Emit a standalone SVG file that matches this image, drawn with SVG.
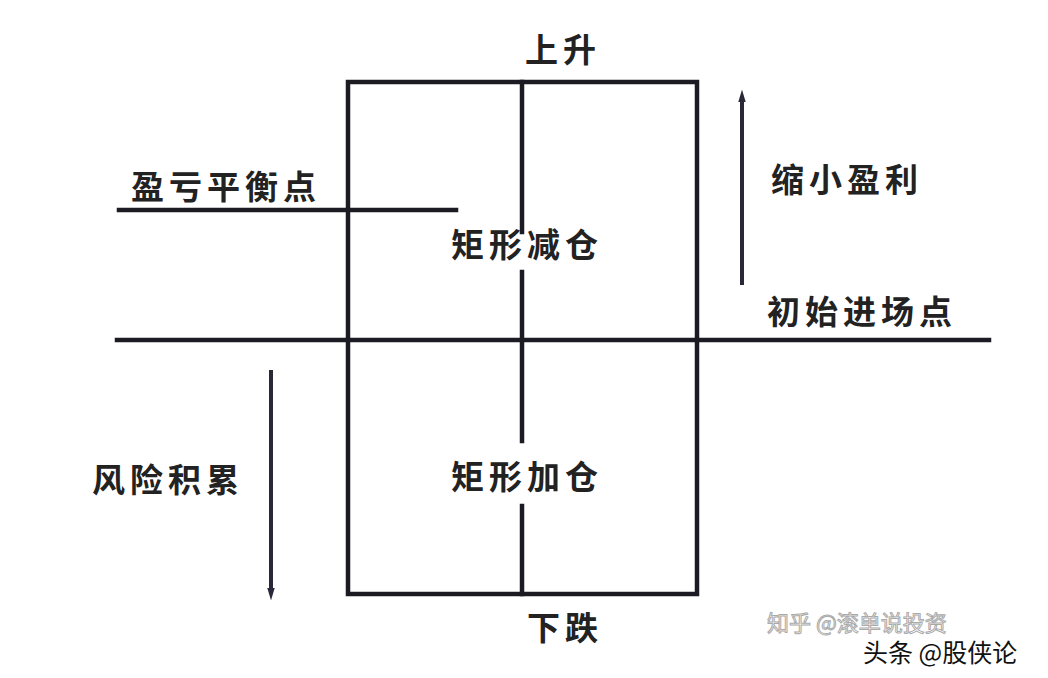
<svg xmlns="http://www.w3.org/2000/svg" width="1048" height="678" viewBox="0 0 1048 678">
<style>
.ln{stroke:#1c1a22;stroke-width:4.5;fill:none;stroke-linecap:square}
.ar{stroke:#2a2838;stroke-width:4;fill:none}
.t{font-family:"Noto Sans CJK SC","Noto Sans",sans-serif;font-weight:bold;font-size:33px;fill:#222;letter-spacing:5px}
.wm1{font-family:"Noto Sans CJK SC",sans-serif;font-size:22px;fill:#fff;stroke:#aaa;stroke-width:1}
.wm2{font-family:"Noto Sans CJK SC",sans-serif;font-size:25px;fill:#111;stroke:#fff;stroke-width:0.6;paint-order:stroke}
</style>
<defs>
<marker id="ah" viewBox="0 0 10 10" refX="5" refY="5" markerWidth="3.2" markerHeight="4" orient="auto">
<path d="M0,2 L10,5 L0,8 Z" fill="#2a2838"/>
</marker>
</defs>
<rect width="1048" height="678" fill="#fff"/>
<g id="connectors">
<rect class="ln" x="348" y="82" width="349" height="512"/>
<line class="ln" x1="522" y1="82" x2="522" y2="232"/>
<line class="ln" x1="522" y1="272" x2="522" y2="441"/>
<line class="ln" x1="522" y1="506" x2="522" y2="594"/>
<line class="ln" x1="117" y1="340" x2="989" y2="340"/>
<line class="ln" x1="119" y1="210" x2="456" y2="210"/>
<line class="ar" x1="742" y1="285" x2="742" y2="96" marker-end="url(#ah)"/>
<line class="ar" x1="271" y1="370" x2="271" y2="594" marker-end="url(#ah)"/>
</g>
<g id="n-up"><text class="t" x="525" y="62">上升</text></g>
<g id="n-down"><text class="t" x="527" y="640">下跌</text></g>
<g id="n-breakeven"><text class="t" x="131" y="199">盈亏平衡点</text></g>
<g id="n-reduce"><text class="t" x="451" y="257">矩形减仓</text></g>
<g id="n-add"><text class="t" x="451" y="489">矩形加仓</text></g>
<g id="n-profit"><text class="t" x="771" y="192">缩小盈利</text></g>
<g id="n-entry"><text class="t" x="767" y="324">初始进场点</text></g>
<g id="n-risk"><text class="t" x="92" y="492">风险积累</text></g>
<g id="watermark">
<text class="wm1" x="767" y="631">知乎 @滚单说投资</text>
<text class="wm2" x="863" y="662">头条 @股侠论</text>
</g>
</svg>
